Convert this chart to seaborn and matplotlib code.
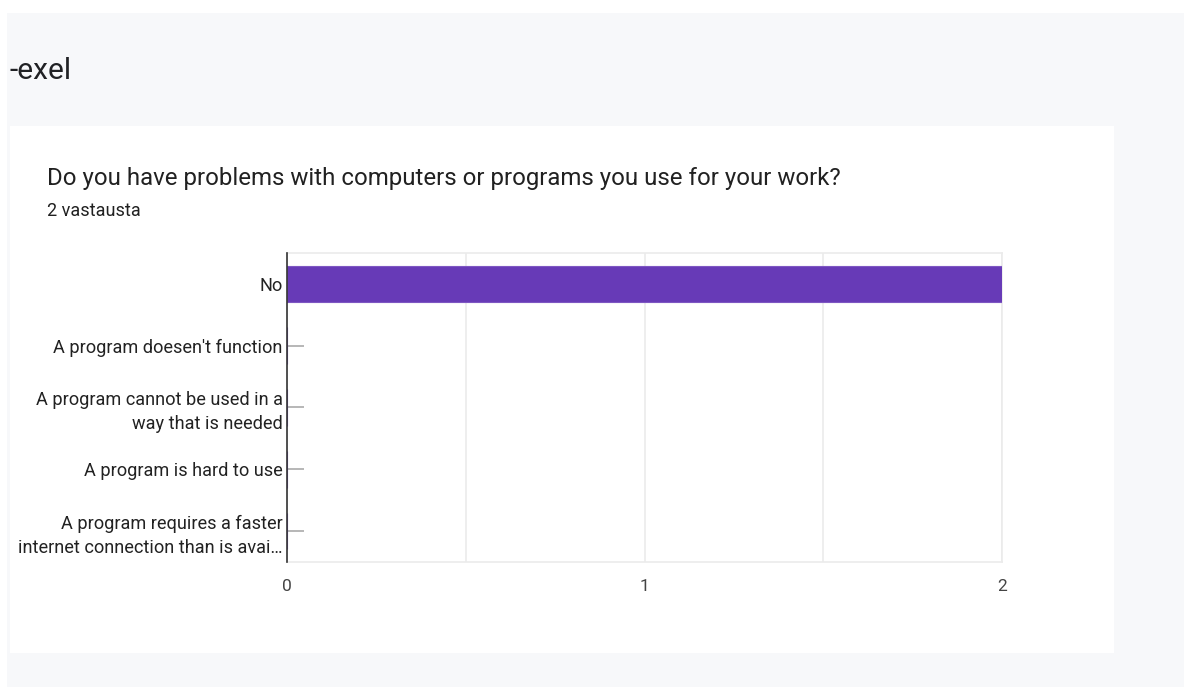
import matplotlib
matplotlib.use("Agg")
import matplotlib.pyplot as plt
from matplotlib.patches import Rectangle
import seaborn as sns
import pandas as pd

# Survey answers and their counts
answers = [
    "No",
    "A program doesen't function",
    "A program cannot be used in a\nway that is needed",
    "A program is hard to use",
    "A program requires a faster\ninternet connection than is avai\u2026",
]
counts = [2, 0, 0, 0, 0]
x_ticks = [0, 1, 2]

section_title = "-exel"
question = "Do you have problems with computers or programs you use for your work?"
responses = "2 vastausta"

sns.set_theme(style="white")
plt.rcParams["font.family"] = ["Roboto", "DejaVu Sans"]

W, H = 1184, 687
fig = plt.figure(figsize=(W / 100, H / 100), dpi=100, facecolor="white")

# page background and white card
fig.patches.append(Rectangle((7 / W, 0), 1 - 7 / W, 1 - 13 / H, transform=fig.transFigure,
                             facecolor="#f7f8fa", edgecolor="none", zorder=-2))
fig.patches.append(Rectangle((10 / W, 1 - 653 / H), (1114 - 10) / W, (653 - 126) / H,
                             transform=fig.transFigure, facecolor="white", edgecolor="none", zorder=-1))

fig.text(10 / W, 1 - 71 / H, section_title, fontsize=21.5, color="#202124", va="center", ha="left")
fig.text(47 / W, 1 - 179 / H, question, fontsize=17.3, color="#212121", va="center", ha="left")
fig.text(47 / W, 1 - 211 / H, responses, fontsize=13, color="#212121", va="center", ha="left")

left, right = 287 / W, 1002 / W
top, bottom = 1 - 253 / H, 1 - 562 / H
ax = fig.add_axes([left, bottom, right - left, top - bottom])
ax.set_facecolor("white")

df = pd.DataFrame({"answer": answers, "count": counts})
sns.barplot(data=df, x="count", y="answer", orient="h", color="#673ab7",
            saturation=1, width=0.59, ax=ax, edgecolor="#7e57c2", linewidth=0.8, zorder=3)

ax.set_xlim(0, 2)
ax.set_ylim(4.5, -0.5)
ax.set_xticks(x_ticks)
ax.set_xticklabels([str(v) for v in x_ticks])
ax.set_xticks([0.5, 1.5], minor=True)
ax.grid(axis="x", which="both", color="#ebebeb", linewidth=1.2, zorder=0)
ax.set_axisbelow(True)
ax.set_xlabel("")
ax.set_ylabel("")

ax.tick_params(axis="x", which="both", length=0, pad=12, labelsize=12.5, labelcolor="#444444")
ax.tick_params(axis="y", left=True, direction="in", length=12.3, width=1.2, color="#aaaaaa",
               pad=3, labelsize=13.1, labelcolor="#222222")
for lbl in ax.get_yticklabels():
    lbl.set_linespacing(1.42)

for side in ("top", "right", "bottom"):
    ax.spines[side].set_visible(True)
    ax.spines[side].set_color("#ebebeb")
    ax.spines[side].set_linewidth(1.2)
ax.spines["left"].set_color("#333333")
ax.spines["left"].set_linewidth(1.2)
ax.spines["left"].set_zorder(5)

fig.savefig("out.png", dpi=100, facecolor=fig.get_facecolor())
